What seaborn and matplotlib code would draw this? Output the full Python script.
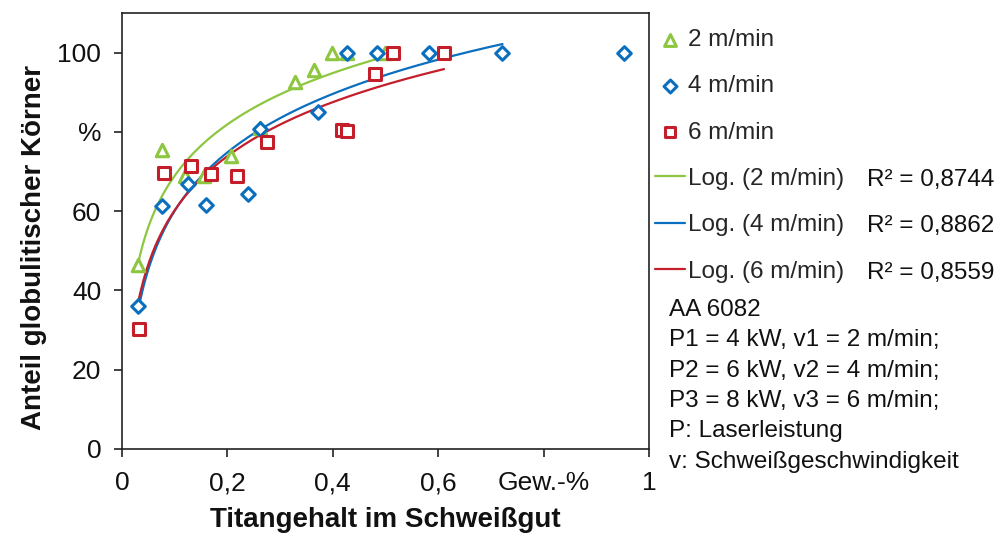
import numpy as np
import pandas as pd
import matplotlib
matplotlib.use("Agg")
import matplotlib.pyplot as plt
import seaborn as sns

sns.set_theme(style="white")
plt.rcParams["font.family"] = ["Liberation Sans", "DejaVu Sans"]

# Titanium content (wt-%) and share of globular grains (%) per welding speed
ti_2 = [0.030, 0.075, 0.120, 0.156, 0.207, 0.261, 0.328, 0.364, 0.399, 0.427, 0.499]
glob_2 = [46.5, 75.5, 69.0, 69.0, 73.8, 81.0, 92.7, 95.7, 100.0, 100.0, 100.0]

ti_4 = [0.031, 0.075, 0.126, 0.159, 0.240, 0.261, 0.372, 0.426, 0.483, 0.583, 0.722, 0.953]
glob_4 = [36.1, 61.2, 66.8, 61.6, 64.3, 80.7, 85.0, 100.0, 100.0, 100.0, 100.0, 100.0]
fit_count_4 = 11  # last point is not part of the trend line

ti_6 = [0.032, 0.080, 0.130, 0.168, 0.218, 0.276, 0.418, 0.426, 0.480, 0.515, 0.611]
glob_6 = [30.2, 69.6, 71.3, 69.4, 68.8, 77.4, 80.4, 80.2, 94.6, 100.0, 100.0]

speed_labels = ["2 m/min", "4 m/min", "6 m/min"]
r2_labels = ["R² = 0,8744", "R² = 0,8862", "R² = 0,8559"]
x_ticks = [0, 0.2, 0.4, 0.6, 0.8, 1.0]
x_tick_labels = ["0", "0,2", "0,4", "0,6", "Gew.-%", "1"]
y_ticks = [0, 20, 40, 60, 80, 100]
y_tick_labels = ["0", "20", "40", "60", "%", "100"]
info_lines = [
    "AA 6082",
    "P1 = 4 kW, v1 = 2 m/min;",
    "P2 = 6 kW, v2 = 4 m/min;",
    "P3 = 8 kW, v3 = 6 m/min;",
    "P: Laserleistung",
    "v: Schweißgeschwindigkeit",
]

colors = ["#8DC63F", "#0B6FBF", "#C41E2A"]
markers = ["^", "D", "s"]
sizes = [80, 48, 64]
side_fs = 17.5

series = [
    (ti_2, glob_2, len(ti_2)),
    (ti_4, glob_4, fit_count_4),
    (ti_6, glob_6, len(ti_6)),
]

fig = plt.figure(figsize=(9.99, 5.33), dpi=100)
ax = fig.add_axes([122 / 999, 1 - 449 / 533, 527 / 999, 436 / 533])

for i, (xs, ys, nfit) in enumerate(series):
    xs = np.asarray(xs)
    ys = np.asarray(ys)
    # logarithmic trend line y = a*ln(x) + b over the fitted range
    a, b = np.polyfit(np.log(xs[:nfit]), ys[:nfit], 1)
    xf = np.linspace(xs[:nfit].min(), xs[:nfit].max(), 200)
    fit_df = pd.DataFrame({"x": xf, "y": a * np.log(xf) + b})
    sns.lineplot(data=fit_df, x="x", y="y", ax=ax, color=colors[i], lw=1.6,
                 zorder=2, label=f"Log. ({speed_labels[i]})")

for i, (xs, ys, nfit) in enumerate(series):
    pts = pd.DataFrame({"x": xs, "y": ys})
    sns.scatterplot(data=pts, x="x", y="y", ax=ax, marker=markers[i], s=sizes[i],
                    color="white", edgecolor=colors[i], linewidth=2.2,
                    zorder=3, label=speed_labels[i])

handles, labels = ax.get_legend_handles_labels()
order = [3, 4, 5, 0, 1, 2]
if ax.get_legend() is not None:
    ax.get_legend().remove()
fig.legend([handles[k] for k in order], [labels[k] for k in order],
           loc="upper left", bbox_to_anchor=(655 / 999, 1 - 29 / 533),
           frameon=False, fontsize=side_fs, labelspacing=1.0, handlelength=1.23,
           handletextpad=0.12, borderpad=0, borderaxespad=0, markerscale=0.95)

for i, txt in enumerate(r2_labels):
    fig.text(867 / 999, 1 - (180 + 46.3 * i) / 533, txt, fontsize=side_fs,
             va="center", ha="left", color="#111111")

fig.text(669 / 999, 1 - 299 / 533, "\n".join(info_lines), fontsize=side_fs,
         va="top", ha="left", linespacing=1.49, color="#111111")

ax.set_xlim(0, 1)
ax.set_ylim(0, 110)
ax.set_xticks(x_ticks)
ax.set_xticklabels(x_tick_labels)
ax.set_yticks(y_ticks)
ax.set_yticklabels(y_tick_labels)
ax.tick_params(axis="both", direction="out", length=6, width=1.2, color="#222222",
               labelsize=19, labelcolor="#111111", bottom=True, left=True)
ax.tick_params(axis="x", pad=10)
ax.tick_params(axis="y", pad=9)
for sp in ax.spines.values():
    sp.set_visible(True)
    sp.set_color("#222222")
    sp.set_linewidth(1.2)

ax.set_xlabel("Titangehalt im Schweißgut", fontsize=20, fontweight="bold", color="#111111")
ax.set_ylabel("Anteil globulitischer Körner", fontsize=20, fontweight="bold", color="#111111")
ax.xaxis.set_label_coords(0.5, -0.133)
ax.yaxis.set_label_coords(-0.142, 0.463)

fig.savefig("out.png", dpi=100)
